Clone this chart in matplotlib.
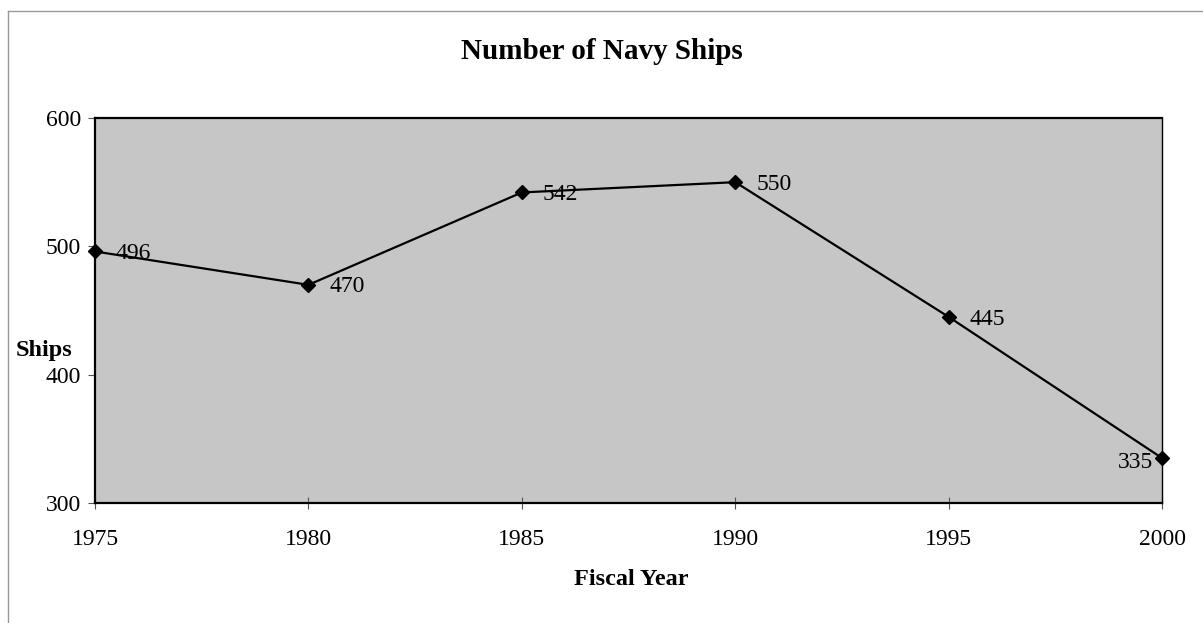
import matplotlib.pyplot as plt
from matplotlib.lines import Line2D

plt.rcParams['font.family'] = ['Liberation Serif', 'DejaVu Serif']

years = [1975, 1980, 1985, 1990, 1995, 2000]
ships = [496, 470, 542, 550, 445, 335]
yticks = [300, 400, 500, 600]

fig = plt.figure(figsize=(12.03, 6.23), dpi=100)
ax = fig.add_axes([0.079, 0.1926, 0.887, 0.618])
ax.set_facecolor('#c6c6c6')

ax.plot(years, ships, color='black', lw=1.6, marker='D', ms=7.5, clip_on=False, zorder=3)

for x, y in zip(years, ships):
    if x == 2000:
        ax.annotate(str(y), (x, y), xytext=(-6.5, -3.5), textcoords='offset points',
                    ha='right', va='center', fontsize=17)
    else:
        ax.annotate(str(y), (x, y), xytext=(15, -1.5), textcoords='offset points',
                    ha='left', va='center', fontsize=17)

ax.set_xlim(1975, 2000)
ax.set_ylim(300, 600)
ax.set_xticks(years)
ax.set_yticks(yticks)
ax.tick_params(axis='both', labelsize=17, color='#555555')
ax.tick_params(axis='x', direction='inout', length=9, pad=14)
ax.tick_params(axis='y', direction='out', length=5, pad=5)
for s in ax.spines.values():
    s.set_linewidth(1.6)
ax.spines['right'].set_linewidth(1.0)

fig.text(0.5, 0.905, 'Number of Navy Ships', ha='center', va='baseline',
         fontsize=21, fontweight='bold')
fig.text(0.037, 0.438, 'Ships', ha='center', va='center', fontsize=17.5, fontweight='bold')
fig.text(0.525, 0.086, 'Fiscal Year', ha='center', va='top', fontsize=17.5, fontweight='bold')

# scan border (top and left only)
fig.lines.append(Line2D([0.0066, 1.0], [0.982, 0.982], transform=fig.transFigure,
                        color='#999999', lw=1))
fig.lines.append(Line2D([0.0066, 0.0066], [0.0, 0.982], transform=fig.transFigure,
                        color='#999999', lw=1))

fig.savefig('out.png', dpi=100)
